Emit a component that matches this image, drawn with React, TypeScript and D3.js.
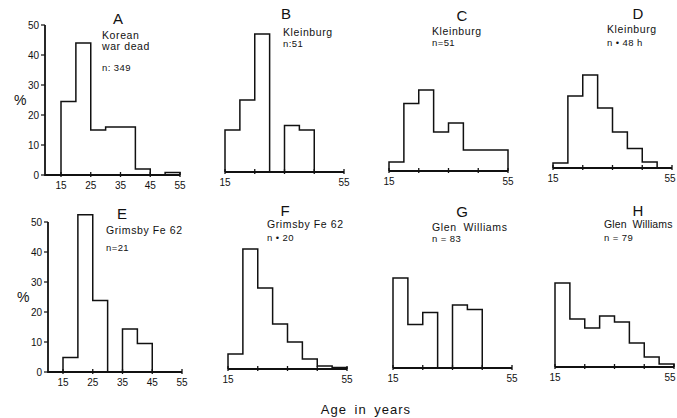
import React from "react";
import * as d3 from "d3";

// ---- data ----
const ageBins = [15, 20, 25, 30, 35, 40, 45, 50, 55];
const xTickValues = [15, 25, 35, 45, 55];
const yTickValues = [0, 10, 20, 30, 40, 50];

const koreanWarDead = [24.5, 44, 15, 16, 16, 2, 0, 0.8];
const kleinburgB = [14, 24, 46, 0, 15.5, 14, 0, 0];
const kleinburgC = [3, 22.5, 27, 13, 16, 7, 7, 7];
const kleinburgD = [1.7, 24, 31, 20, 12, 6.5, 2, 0];
const grimsbyE = [4.8, 52.4, 23.8, 0, 14.3, 9.5, 0, 0];
const grimsbyF = [5, 40, 27, 15, 9, 3.3, 1, 0.5];
const glenWilliamsG = [30, 14.5, 18.5, 0, 21, 19.5, 0, 0];
const glenWilliamsH = [28, 16, 13, 17, 15, 8, 3.3, 1];

const panelLetters = ["A", "B", "C", "D", "E", "F", "G", "H"];
const panelPlaces = [
  ["Korean", "war dead"],
  ["Kleinburg"],
  ["Kleinburg"],
  ["Kleinburg"],
  ["Grimsby Fe 62"],
  ["Grimsby Fe 62"],
  ["Glen  Williams"],
  ["Glen  Williams"],
];
const panelCounts = ["n: 349", "n:51", "n=51", "n • 48 h", "n=21", "n • 20", "n = 83", "n = 79"];
const panelSeries = [
  koreanWarDead, kleinburgB, kleinburgC, kleinburgD,
  grimsbyE, grimsbyF, glenWilliamsG, glenWilliamsH,
];
const axisTitle = "Age in years";
const yLabel = "%";

// ---- layout ----
type Layout = {
  x15: number; base: number; letterX: number; letterY: number;
  textX: number; placeY: number[]; countY: number; yAxisX?: number; allXLabels: boolean;
  placeSpacing: number;
};
const layouts: Layout[] = [
  { x15: 61, base: 175, letterX: 118, letterY: 24, textX: 102, placeY: [39, 50], countY: 71, yAxisX: 45, allXLabels: true, placeSpacing: 0.6 },
  { x15: 225, base: 172, letterX: 286, letterY: 19, textX: 283, placeY: [36], countY: 47, allXLabels: false, placeSpacing: 0.6 },
  { x15: 389, base: 171, letterX: 462, letterY: 21, textX: 432, placeY: [35], countY: 46, allXLabels: false, placeSpacing: 0.6 },
  { x15: 553, base: 168, letterX: 638, letterY: 19, textX: 607, placeY: [33], countY: 46, allXLabels: false, placeSpacing: 0.6 },
  { x15: 63, base: 372, letterX: 122, letterY: 219, textX: 106, placeY: [234], countY: 251, yAxisX: 48, allXLabels: true, placeSpacing: 0.6 },
  { x15: 228, base: 369, letterX: 285, letterY: 216, textX: 267, placeY: [228], countY: 241, allXLabels: false, placeSpacing: 0.6 },
  { x15: 393, base: 368, letterX: 462, letterY: 217, textX: 432, placeY: [231], countY: 242, allXLabels: false, placeSpacing: 0.6 },
  { x15: 555, base: 367, letterX: 638, letterY: 216, textX: 604, placeY: [228], countY: 241, allXLabels: false, placeSpacing: 0.1 },
];

const FONT = "'Liberation Sans', Arial, Helvetica, sans-serif";
const INK = "#111";

function Panel({ idx }: { idx: number }) {
  const L = layouts[idx];
  const values = panelSeries[idx];
  const x = d3.scaleLinear().domain([15, 55]).range([L.x15, L.x15 + 119]);
  const y = d3.scaleLinear().domain([0, 50]).range([L.base, L.base - 150]);

  const pts: [number, number][] = [[x(ageBins[0]), y(0)]];
  values.forEach((v, i) => {
    pts.push([x(ageBins[i]), y(v)]);
    pts.push([x(ageBins[i + 1]), y(v)]);
  });
  pts.push([x(ageBins[ageBins.length - 1]), y(0)]);
  const path = d3.line()(pts) as string;

  const axisStart = L.yAxisX !== undefined ? L.yAxisX : x(15);
  const labelTicks = L.allXLabels ? xTickValues : [15, 55];

  return (
    <g>
      <path d={path} fill="none" stroke={INK} strokeWidth={1.5} strokeLinejoin="miter" />
      <line x1={axisStart} x2={x(55)} y1={y(0)} y2={y(0)} stroke={INK} strokeWidth={2} />
      {xTickValues.map((t) => (
        <line key={t} x1={x(t)} x2={x(t)} y1={y(0) - 3} y2={y(0) + 2} stroke={INK} strokeWidth={1.3} />
      ))}
      {labelTicks.map((t) => {
        const lx = Math.min(x(t), 670);
        return (
          <text key={t} x={lx} y={y(0) + 14} textAnchor="middle" fontSize={10} fontFamily={FONT} fill={INK}>
            {t}
          </text>
        );
      })}
      {L.yAxisX !== undefined && (
        <g>
          <line x1={L.yAxisX} x2={L.yAxisX} y1={y(0) + 1} y2={y(50)} stroke={INK} strokeWidth={1.8} />
          {yTickValues.map((t) => (
            <g key={t}>
              <line x1={L.yAxisX - 4} x2={L.yAxisX} y1={y(t)} y2={y(t)} stroke={INK} strokeWidth={1.2} />
              <text x={L.yAxisX - 6} y={y(t) + 3.5} textAnchor="end" fontSize={10} fontFamily={FONT} fill={INK}>
                {t}
              </text>
            </g>
          ))}
          <text x={L.yAxisX - 31} y={y(25) + 5} fontSize={14} fontFamily={FONT} fill={INK}>
            {yLabel}
          </text>
        </g>
      )}
      <text x={L.letterX} y={L.letterY} textAnchor="middle" fontSize={15} fontFamily={FONT} fill={INK}>
        {panelLetters[idx]}
      </text>
      {panelPlaces[idx].map((s, i) => (
        <text key={i} x={L.textX} y={L.placeY[i]} fontSize={10.5} letterSpacing={L.placeSpacing} fontFamily={FONT} fill={INK} style={{ whiteSpace: "pre" }}>
          {s}
        </text>
      ))}
      <text x={L.textX} y={L.countY} fontSize={9.5} letterSpacing={0.4} fontFamily={FONT} fill={INK}>
        {panelCounts[idx]}
      </text>
    </g>
  );
}

export default function App() {
  return (
    <svg width={677} height={418} style={{ position: "absolute", left: 0, top: 0, background: "#fff" }}>
      <rect x={0} y={0} width={677} height={418} fill="#fff" />
      {layouts.map((_, i) => (
        <Panel key={i} idx={i} />
      ))}
      <text x={366} y={414} textAnchor="middle" fontSize={13} letterSpacing={1} wordSpacing={3} fontFamily={FONT} fill={INK}>
        {axisTitle}
      </text>
    </svg>
  );
}
